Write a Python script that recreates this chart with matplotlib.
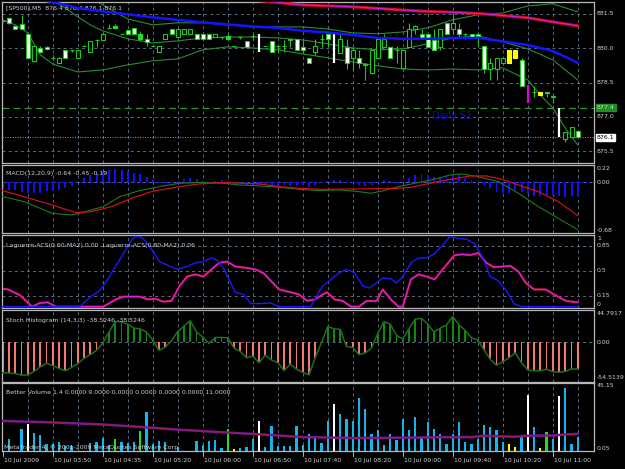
import matplotlib
matplotlib.use("Agg")
import matplotlib.pyplot as plt
from matplotlib.patches import Rectangle

plt.rcParams["lines.scale_dashes"] = False
plt.rcParams["font.family"] = ["DejaVu Sans"]

W, H = 625, 469
BG = "#000000"
FG = "#d0d0d0"
GRID = "#647a90"
CANDLE = "#1ec81e"
FS = 4.5

#-----------------------------------------------------
#-------- DONNEES -------------------------------------

time_labels = ["10 Jul 2009", "10 Jul 03:50", "10 Jul 04:35", "10 Jul 05:20", "10 Jul 06:00",
               "10 Jul 06:50", "10 Jul 07:40", "10 Jul 08:20", "10 Jul 09:00", "10 Jul 09:40",
               "10 Jul 10:20", "10 Jul 11:00"]
label_bars = [0, 8, 16, 24, 32, 40, 48, 56, 64, 72, 80, 88]

# bougies M5 (open, high, low, close)
opens = [881.2, 881.3, 880.95, 881.05, 880.6, 879.45, 880.0, 880.05, 879.55, 879.35,
         879.9, 879.9, 879.55, 880.1, 879.85, 880.35, 880.35, 880.9, 880.9, 880.6,
         880.8, 880.9, 880.6, 880.4, 880.1, 879.85, 880.4, 880.85, 880.5, 880.6,
         880.6, 880.6, 880.6, 880.6, 880.5, 880.5, 880.4, 880.1, 880.5, 880.3,
         880.55, 880.6, 880.1, 880.3, 880.1, 880.1, 880.4, 880.4, 880.05, 879.55,
         879.85, 880.4, 880.6, 880.6, 879.8, 880.05, 879.55, 879.55, 879.3, 878.9,
         879.55, 880.05, 880.05, 879.9, 879.15, 880.05, 880.85, 880.6, 880.6, 880.35,
         880.05, 881.1, 880.85, 880.85, 880.6, 880.6, 880.6, 880.1, 879.1, 879.1,
         879.35, 879.35, 879.55, 879.5, 878.4, 878.1, 878.1, 878.1, 877.9, 877.4,
         876.05, 876.1, 876.4]
highs = [881.25, 881.35, 881.0, 881.45, 880.65, 880.1, 880.1, 880.1, 879.7, 879.6,
         879.9, 879.9, 879.9, 880.15, 880.3, 880.4, 880.65, 881.05, 881.05, 880.6,
         880.8, 880.9, 880.75, 880.6, 880.1, 880.1, 880.6, 880.85, 880.85, 880.85,
         880.85, 880.6, 880.6, 880.6, 880.6, 880.5, 880.6, 880.1, 880.5, 880.3,
         880.6, 880.6, 880.1, 880.3, 880.1, 880.35, 880.4, 880.4, 880.35, 879.55,
         880.4, 880.6, 880.6, 880.6, 880.65, 880.4, 880.05, 879.9, 879.35, 879.9,
         880.4, 880.6, 880.05, 880.1, 879.9, 881.1, 881.0, 880.85, 880.6, 880.85,
         880.85, 881.1, 881.55, 881.1, 880.65, 880.6, 880.65, 880.1, 879.55, 879.55,
         879.55, 879.9, 879.9, 879.55, 878.4, 878.35, 878.1, 878.1, 877.9, 877.4,
         876.35, 876.55, 876.4]
lows = [881.15, 881.05, 880.85, 880.85, 879.55, 879.4, 879.8, 879.9, 879.5, 879.35,
        879.55, 879.85, 879.55, 880.1, 879.85, 880.05, 880.35, 880.9, 880.85, 880.6,
        880.6, 880.6, 880.3, 880.1, 880.1, 879.85, 880.4, 880.6, 880.5, 880.6,
        880.6, 880.4, 880.4, 880.4, 880.5, 880.4, 880.4, 880.1, 880.4, 880.05,
        880.35, 879.85, 880.1, 879.85, 879.85, 879.85, 880.05, 879.9, 879.8, 879.35,
        879.7, 880.05, 880.05, 879.35, 879.8, 879.1, 879.05, 879.15, 878.6, 878.85,
        879.55, 880.05, 879.55, 879.35, 879.15, 880.05, 880.6, 880.4, 880.05, 879.9,
        879.9, 880.6, 880.6, 880.5, 880.4, 880.5, 880.1, 878.9, 878.6, 878.6,
        879.35, 879.35, 879.55, 878.35, 877.6, 877.85, 877.95, 877.85, 877.6, 876.1,
        875.9, 876.1, 876.1]
closes = [881.2, 881.1, 880.85, 880.85, 879.55, 880.1, 879.85, 879.95, 879.55, 879.55,
          879.55, 879.9, 879.9, 880.1, 880.3, 880.35, 880.6, 880.9, 880.95, 880.6,
          880.6, 880.6, 880.4, 880.25, 880.1, 880.1, 880.6, 880.6, 880.85, 880.85,
          880.85, 880.4, 880.4, 880.4, 880.6, 880.5, 880.55, 880.1, 880.5, 880.05,
          880.55, 880.1, 880.1, 879.85, 880.1, 880.1, 880.35, 879.9, 879.9, 879.35,
          880.1, 880.4, 880.4, 879.35, 880.4, 879.35, 879.9, 879.35, 879.25, 879.9,
          880.4, 880.4, 879.55, 879.9, 879.9, 880.85, 880.95, 880.45, 880.05, 879.9,
          880.85, 880.6, 881.1, 880.6, 880.6, 880.5, 880.55, 879.1, 879.35, 879.55,
          879.55, 879.9, 879.9, 878.35, 877.6, 878.1, 877.95, 878.05, 877.85, 876.1,
          876.35, 876.55, 876.1]

# couleurs "Better Volume" reportees sur les bougies
climax_bars = {41: "#ffffff", 53: "#ffffff", 89: "#ffffff", 84: "#e000e0"}
filled_bars = {18: "#22dd22", 22: "#22dd22", 36: "#22dd22", 87: "#22dd22",
               81: "#ffff00", 82: "#ffff00", 86: "#ffff00"}

# bandes de Bollinger et moyennes (lecture tous les quelques bars)
bb_up_x = [14, 18, 20, 24, 28, 32, 36, 40, 44, 48, 52, 56, 60, 64, 68, 72, 76, 80, 84, 88, 92]
bb_up = [882.2, 881.59, 881.28, 881.02, 881.11, 881.11, 881.02, 880.93, 880.93, 880.93, 880.84,
         880.67, 880.63, 880.71, 880.89, 881.24, 881.46, 881.54, 881.85, 881.94, 881.59]
bb_mid_x = [8, 10, 12, 14, 16, 20, 24, 28, 32, 36, 40, 44, 48, 52, 56, 60, 64, 68, 72, 76, 80, 84, 88, 92]
bb_mid = [882.07, 881.76, 881.37, 881.02, 880.76, 880.41, 880.23, 880.32, 880.45, 880.49, 880.49,
          880.45, 880.36, 880.19, 880.01, 879.93, 879.97, 880.19, 880.45, 880.54, 880.28, 879.97,
          879.49, 878.61]
bb_low_x = [0, 2, 4, 6, 8, 12, 16, 20, 24, 28, 32, 36, 40, 44, 48, 52, 56, 60, 64, 68, 72, 76,
            80, 84, 86, 88, 90, 92]
bb_low = [881.24, 881.02, 880.67, 879.71, 879.31, 878.96, 879.05, 879.27, 879.45, 879.53, 879.93,
          880.06, 880.01, 879.93, 879.75, 879.58, 879.40, 879.23, 879.09, 879.05, 879.09, 879.05,
          879.14, 878.61, 877.96, 877.39, 876.51, 875.77]
ma_blue_x = [6, 8, 12, 16, 20, 24, 28, 32, 36, 40, 44, 48, 52, 56, 60, 64, 68, 72, 76, 80, 84, 88, 92]
ma_blue = [882.11, 882.02, 881.76, 881.61, 881.48, 881.35, 881.24, 881.13, 881.04, 880.95, 880.89,
           880.76, 880.69, 880.58, 880.45, 880.41, 880.41, 880.45, 880.45, 880.30, 880.14, 879.88,
           879.36]
ma_red_x = [36, 40, 44, 48, 52, 56, 60, 64, 68, 72, 76, 80, 84, 88, 92]
ma_red = [882.2, 882.11, 882.0, 881.89, 881.85, 881.81, 881.74, 881.67, 881.61, 881.57, 881.52,
          881.43, 881.33, 881.15, 880.98]

# MACD
macd_hist = [-0.08, -0.10, -0.10, -0.13, -0.15, -0.15, -0.14, -0.12, -0.12, -0.10,
             -0.08, -0.045, 0.01, 0.054, 0.099, 0.121, 0.144, 0.166, 0.175, 0.166,
             0.153, 0.13, 0.108, 0.067, 0.031, -0.004, -0.013, 0.009, 0.022, 0.045,
             0.054, 0.04, 0.022, 0.009, 0.022, 0.031, -0.004, -0.022, -0.022, -0.036,
             -0.04, -0.036, -0.027, -0.04, -0.05, -0.04, -0.05, -0.045, -0.04, -0.058,
             -0.04, -0.013, 0.022, 0.031, 0.031, -0.004, -0.013, -0.036, -0.05, -0.031,
             -0.004, 0.031, 0.022, -0.004, 0.009, 0.054, 0.099, 0.112, 0.099, 0.067,
             0.076, 0.099, 0.112, 0.099, 0.054, 0.031, 0.009, -0.036, -0.08, -0.126,
             -0.148, -0.139, -0.103, -0.126, -0.162, -0.184, -0.184, -0.171, -0.171, -0.184,
             -0.193, -0.184, -0.19]
macd_main_x = [-0.4, 3.4, 7.9, 11.0, 12.3, 16.1, 18.7, 21.9, 25.1, 28.3, 31.5, 35.3, 37.8, 41.0,
               44.2, 47.4, 50.6, 53.8, 57.0, 58.9, 60.8, 63.3, 66.5, 69.7, 71.6, 73.5, 76.1,
               79.3, 82.5, 85.7, 88.9, 92.0]
macd_main = [-0.184, -0.261, -0.418, -0.441, -0.418, -0.328, -0.194, -0.112, -0.058, -0.013,
             -0.004, -0.013, -0.036, -0.049, -0.067, -0.094, -0.112, -0.103, -0.126, -0.148,
             -0.117, -0.058, -0.004, 0.054, 0.099, 0.112, 0.076, 0.009, -0.148, -0.328,
             -0.486, -0.64]
macd_sig_x = [-0.4, 3.4, 7.9, 11.7, 14.2, 17.4, 20.6, 23.8, 28.3, 31.5, 35.3, 41.0, 44.2, 47.4,
              50.6, 57.0, 63.3, 65.3, 68.4, 71.6, 74.8, 77.4, 79.9, 82.5, 85.7, 88.9, 92.0]
macd_sig = [-0.103, -0.194, -0.306, -0.409, -0.396, -0.328, -0.216, -0.126, -0.058, -0.022,
            -0.004, -0.022, -0.058, -0.081, -0.094, -0.090, -0.081, -0.067, -0.013, 0.04,
            0.085, 0.085, 0.04, -0.036, -0.126, -0.261, -0.45]

# Laguerre ACS
lag1_x = [0, 12.3, 14.2, 15.5, 16.8, 18.1, 19.3, 20.6, 21.2, 22.2, 23.2, 24.4, 25.1, 26.3,
          27.9, 29.5, 30.8, 32.1, 33.4, 34.3, 35.3, 36.2, 37.2, 38.5, 39.7, 42.9, 44.2, 49.3,
          49.9, 51.2, 52.5, 53.8, 55.0, 56.3, 57.6, 58.6, 59.5, 60.8, 62.1, 63.0, 64.0, 65.3,
          66.5, 67.8, 69.1, 70.4, 71.6, 72.9, 74.2, 75.5, 76.7, 78.0, 79.3, 80.6, 81.8, 83.1, 92.0]
lag1 = [0.0, 0.0, 0.15, 0.22, 0.38, 0.57, 0.74, 0.93, 0.98, 0.97, 0.88, 0.72, 0.63, 0.58,
        0.52, 0.56, 0.61, 0.63, 0.68, 0.65, 0.54, 0.38, 0.20, 0.17, 0.04, 0.05, 0.0, 0.0,
        0.10, 0.29, 0.38, 0.47, 0.52, 0.47, 0.29, 0.26, 0.31, 0.40, 0.39, 0.33, 0.42, 0.61,
        0.68, 0.68, 0.74, 0.86, 0.98, 0.95, 0.94, 0.88, 0.70, 0.42, 0.36, 0.22, 0.04, 0.0, 0.0]
lag2_x = [0, 0.84, 2.75, 4.7, 5.9, 7.2, 8.5, 16.1, 18.1, 19.3, 21.9, 23.2, 24.4, 25.7, 27.0,
          28.3, 29.5, 30.8, 32.1, 33.4, 34.6, 35.9, 37.2, 39.1, 40.4, 41.7, 42.9, 44.2, 46.1,
          47.4, 48.7, 49.9, 51.2, 51.9, 53.1, 54.4, 55.7, 57.0, 58.2, 59.8, 60.8, 62.1, 63.3,
          64.0, 65.3, 66.5, 67.8, 69.1, 70.4, 72.3, 73.5, 74.8, 76.1, 77.4, 78.6, 79.9, 81.2,
          82.5, 83.7, 85.0, 86.9, 88.2, 90.1, 92.0]
lag2 = [0.25, 0.24, 0.16, 0.0, 0.05, 0.06, 0.0, 0.0, 0.10, 0.14, 0.14, 0.10, 0.11, 0.07, 0.08,
        0.29, 0.42, 0.45, 0.42, 0.52, 0.61, 0.63, 0.56, 0.54, 0.52, 0.47, 0.36, 0.24, 0.20,
        0.17, 0.08, 0.10, 0.17, 0.20, 0.10, 0.08, 0.0, 0.0, 0.08, 0.08, 0.24, 0.10, 0.0,
        0.0, 0.38, 0.45, 0.42, 0.38, 0.52, 0.72, 0.73, 0.72, 0.75, 0.61, 0.55, 0.56, 0.57,
        0.49, 0.33, 0.24, 0.24, 0.17, 0.08, 0.06]

# Stoch histogram
stoch = [-43.7, -44.2, -45.1, -47.4, -47.0, -41.9, -35.3, -30.2, -33.5, -37.7,
         -40.9, -36.3, -30.7, -23.3, -17.7, -11.6, -1.4, 14.9, 29.8, 29.8,
         26.0, 20.5, 19.1, 14.9, 3.3, -11.6, -7.0, 2.3, 15.8, 23.3,
         31.2, 14.9, 7.9, -1.4, 7.0, 7.0, 6.5, -8.4, -13.0, -22.3,
         -20.0, -29.3, -18.6, -25.6, -29.3, -40.9, -31.6, -38.6, -43.3, -47.0,
         -22.3, 0.0, 22.8, 19.5, 18.6, -6.0, -7.4, -17.7, -15.3, -8.4,
         12.6, 29.8, 26.0, 10.2, 4.7, 19.5, 33.5, 34.4, 26.5, 14.9,
         20.5, 25.1, 37.2, 25.1, 17.2, 6.5, 3.3, -10.7, -24.7, -33.0,
         -27.9, -22.3, -15.3, -29.3, -40.0, -40.9, -40.9, -39.1, -42.3, -43.3,
         -41.9, -38.6, -38.52]

# Better Volume
volume = [0, 7.7, 0, 14.4, 17.7, 11.7, 10.6, 4.5, 4.2, 5.5,
          2.9, 2.9, 0, 0, 5.1, 5.5, 8.4, 4.0, 7.7, 5.5,
          5.1, 5.5, 12.8, 25.5, 4.6, 6.4, 6.0, 0, 2.4, 0,
          0, 6.6, 4.0, 6.2, 7.3, 1.8, 14.4, 1.3, 1.8, 2.2,
          7.7, 19.5, 2.2, 16.6, 2.9, 2.9, 2.9, 16.6, 4.0, 11.1,
          10.0, 5.1, 19.9, 31.3, 24.6, 21.2, 19.9, 35.0, 27.7, 11.1,
          13.5, 3.5, 11.3, 7.3, 21.2, 13.5, 22.3, 8.4, 18.8, 14.6,
          11.1, 4.6, 11.1, 18.8, 5.8, 4.6, 8.0, 16.8, 15.5, 13.5,
          5.8, 4.6, 2.4, 10.0, 37.2, 15.9, 1.5, 12.4, 8.0, 36.5,
          41.6, 4.6, 8.9]
vol_colors = {4: "#ffffff", 41: "#ffffff", 53: "#ffffff", 84: "#ffffff", 89: "#ffffff",
              18: "#22dd22", 22: "#22dd22", 36: "#22dd22", 87: "#22dd22",
              37: "#ffff00", 81: "#ffff00", 82: "#ffff00", 86: "#ffff00"}
vol_ma_x = [0, 8, 16, 22, 28, 36, 42, 48, 56, 64, 70, 75, 77, 82, 84, 88, 92]
vol_ma = [19.8, 18.8, 17.4, 15.8, 14.0, 12.0, 10.6, 9.0, 8.4, 8.6, 8.9, 9.0, 9.9, 9.2, 9.9, 10.1, 11.2]

#-----------------------------------------------------
#-------- FIGURE --------------------------------------

fig = plt.figure(figsize=(W / 100, H / 100), dpi=100, facecolor=BG)
bars = list(range(len(closes)))


def panel(top, bot):
    ax = fig.add_axes([2 / W, 1 - bot / H, 592 / W, (bot - top) / H])
    ax.set_facecolor(BG)
    ax.set_xlim(-0.12, 94.6)
    ax.set_xticks([])
    ax.set_yticks([])
    for s in ax.spines.values():
        s.set_color("#b8b8b8")
        s.set_linewidth(0.9)
    for j in range(4, 93, 4):
        ax.axvline(j, color=GRID, lw=0.6, dashes=(2.2, 2.2), zorder=0)
    return ax


def rlabel(ax, y, txt, va="center", **kw):
    return ax.text(1.005, y, txt, transform=ax.get_yaxis_transform(), color=FG,
                   fontsize=FS, va=va, ha="left", clip_on=False, **kw)


def hgrid(ax, y):
    ax.axhline(y, color=GRID, lw=0.6, dashes=(2.2, 2.2), zorder=0)


# ---- graphique principal
ax = panel(2, 163)
ax.set_ylim(874.98, 882.02)
for p in [881.5, 880.0, 878.5, 877.0, 875.5]:
    hgrid(ax, p)
    rlabel(ax, p, f"{p:.1f}")
ax.axhline(877.4, color="#2e9a2e", lw=0.9, dashes=(5, 3), zorder=1)
ax.axhline(876.1, color="#8a8a8a", lw=0.7, dashes=(0.8, 1.0), zorder=1)
rlabel(ax, 877.4, "877.4", bbox=dict(boxstyle="square,pad=0.12", fc="#1f8f1f", ec="#1f8f1f"))
t = rlabel(ax, 876.1, "876.1", bbox=dict(boxstyle="square,pad=0.12", fc="#ffffff", ec="#ffffff"))
t.set_color("#000000")
# texte "Daily S1" (x en numero de bar)
ax.text(71.9, 877.02, "Daily S1", color="#0c0cc8", fontsize=7, ha="center", va="center")

ax.plot(bb_up_x, bb_up, color="#2a8a3a", lw=0.8, zorder=2)
ax.plot(bb_mid_x, bb_mid, color="#2a8a3a", lw=0.8, zorder=2)
ax.plot(bb_low_x, bb_low, color="#2a8a3a", lw=0.8, zorder=2)

for j in bars:
    o, h, l, c = opens[j], highs[j], lows[j], closes[j]
    if j in climax_bars:
        col = climax_bars[j]
        ax.plot([j, j], [l, h], color=col, lw=1.6, zorder=4, solid_capstyle="butt")
        continue
    ax.plot([j, j], [l, h], color=CANDLE, lw=0.8, zorder=3, solid_capstyle="butt")
    fill = "#ffffff" if c < o else "#000000"
    edge = CANDLE
    if j in filled_bars:
        fill = edge = filled_bars[j]
    ax.add_patch(Rectangle((j - 0.32, min(o, c)), 0.64, abs(c - o), fc=fill, ec=edge,
                           lw=0.8, zorder=3.5))

ax.plot(ma_red_x, ma_red, color="#c80010", lw=2.2, zorder=5)
ax.plot(ma_red_x, ma_red, color="#d020d0", lw=0.9, zorder=5.1)
ax.plot(ma_blue_x, ma_blue, color="#1414ff", lw=1.8, zorder=5)
ax.text(0.006, 0.965, "[SP500],M5  876.4 876.4 876.1 876.1", transform=ax.transAxes,
        color=FG, fontsize=FS, va="center", ha="left")

# ---- MACD
ax2 = panel(165, 233)
ax2.set_ylim(-0.684, 0.233)
hgrid(ax2, 0)
ax2.axhline(0, color="#3030ff", lw=0.7, dashes=(1, 1.5), zorder=1)
ax2.bar(bars, macd_hist, width=0.32, color="#1010ff", zorder=2)
ax2.plot(macd_main_x, macd_main, color="#1e7a1e", lw=0.8, zorder=3)
ax2.plot(macd_sig_x, macd_sig, color="#d01010", lw=0.9, zorder=3)
rlabel(ax2, 0.22, "0.22", va="top")
rlabel(ax2, 0.0, "0.00")
rlabel(ax2, -0.68, "-0.68", va="bottom")
ax2.text(0.006, 0.88, "MACD(12,20,9) -0.64 -0.45 -0.19", transform=ax2.transAxes,
         color=FG, fontsize=FS, va="center", ha="left")

# ---- Laguerre
ax3 = panel(235, 307.5)
ax3.set_ylim(-0.012, 1.0)
for lv in [0.85, 0.5, 0.15]:
    hgrid(ax3, lv)
ax3.plot(lag2_x, lag2, color="#c01040", lw=1.6, zorder=2)
ax3.plot(lag2_x, lag2, color="#e020e0", lw=0.8, zorder=2.1)
ax3.plot(lag1_x, lag1, color="#1a1aff", lw=1.0, zorder=3)
rlabel(ax3, 0.99, "1", va="top")
rlabel(ax3, 0.85, "0.85")
rlabel(ax3, 0.5, "0.5")
rlabel(ax3, 0.15, "0.15")
rlabel(ax3, 0.0, "0", va="bottom")
ax3.text(0.006, 0.86, "Laguerre-ACS(0.60-MA2) 0.00  Laguerre-ACS(0.80-MA2) 0.06",
         transform=ax3.transAxes, color=FG, fontsize=FS, va="center", ha="left")

# ---- Stoch histogram
ax4 = panel(310, 382)
ax4.set_ylim(-57.2, 46.6)
hgrid(ax4, 0)
st_cols = ["#f07a6e" if v < 0 else "#0f8a0f" for v in stoch]
ax4.bar(bars, stoch, width=0.3, color=st_cols, zorder=2)
ax4.plot(bars, stoch, color="#1e6e1e", lw=1.1, zorder=3)
rlabel(ax4, 44.7917, "44.7917", va="top")
rlabel(ax4, 0.0, "0.00")
rlabel(ax4, -54.5139, "-54.5139", va="bottom")
ax4.text(0.006, 0.86, "Stoch Histogram (14,3,3) -38.5246 -38.5246", transform=ax4.transAxes,
         color=FG, fontsize=FS, va="center", ha="left")

# ---- Better Volume
ax5 = panel(383, 451)
ax5.set_ylim(-0.3, 45.15)
ax5.axhline(0, color=GRID, lw=0.6, dashes=(2.2, 2.2), zorder=0)
v_cols = [vol_colors.get(j, "#16b4ee") for j in bars]
ax5.bar(bars, volume, width=0.34, color=v_cols, zorder=2)
ax5.plot(vol_ma_x, vol_ma, color="#7a1a8a", lw=1.8, zorder=3)
ax5.plot(vol_ma_x, vol_ma, color="#d01010", lw=0.6, dashes=(0.6, 1.2), zorder=3.1)
rlabel(ax5, 45.15, "45.15", va="top")
rlabel(ax5, 0.0, "0.05", va="bottom")
ax5.text(0.006, 0.86, "Better Volume 1.4 0.0000 9.0000 0.0000 0.0000 0.0000 0.0000 11.0000",
         transform=ax5.transAxes, color=FG, fontsize=FS, va="center", ha="left")
ax5.text(0.003, 0.06, "MetaTrader 4, \u00a9 2001-2009 MetaQuotes Software Corp.",
         transform=ax5.transAxes, color=FG, fontsize=FS, va="center", ha="left", zorder=5)

# ---- axe du temps
for j, lab in zip(label_bars, time_labels):
    px = 2.75 + 6.25 * j
    fig.add_artist(plt.Line2D([px / W, px / W], [1 - 451 / H, 1 - 456 / H], color=FG, lw=0.6))
    fig.text((px + 1.5) / W, 1 - 460.5 / H, lab, color=FG, fontsize=FS, va="center", ha="left")

fig.savefig("out.png", dpi=100, facecolor=BG)
